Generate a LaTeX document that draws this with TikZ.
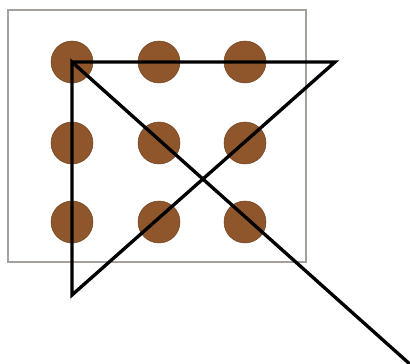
\documentclass[tikz,border=0pt]{standalone}
\usepackage{tikz}
\usetikzlibrary{positioning,calc}
\definecolor{dotbrown}{RGB}{142,86,42}
\definecolor{boxgray}{RGB}{165,160,155}

\begin{document}
\begin{tikzpicture}[
  x=0.02cm,y=-0.02cm,
  dot/.style ={circle,fill=dotbrown,draw=dotbrown!80!black,line width=0.3pt,
               minimum size=0.84cm,inner sep=0pt},
  frame/.style={draw=boxgray,line width=0.7pt},
  stroke/.style={line width=1.9pt,line join=miter}
]
\useasboundingbox (0,0) rectangle (410,364);
\draw[frame] (8,10) rectangle (306,262);

\node[dot] (d11) at (72,62) {};
\node[dot] (d12) at (159,62) {};
\node[dot] (d13) at (245,62) {};
\node[dot] (d21) at (72,143) {};
\node[dot] (d22) at (159,143) {};
\node[dot] (d23) at (245,143) {};
\node[dot] (d31) at (72,222) {};
\node[dot] (d32) at (159,222) {};
\node[dot] (d33) at (245,222) {};

\coordinate (turnR) at (335,62);
\coordinate (turnB) at (72,295);
\coordinate (tail) at (412,366);

\draw[stroke] (d11.center) -- (turnR) -- (turnB) -- (d11.center) -- (tail);
\end{tikzpicture}
\end{document}
